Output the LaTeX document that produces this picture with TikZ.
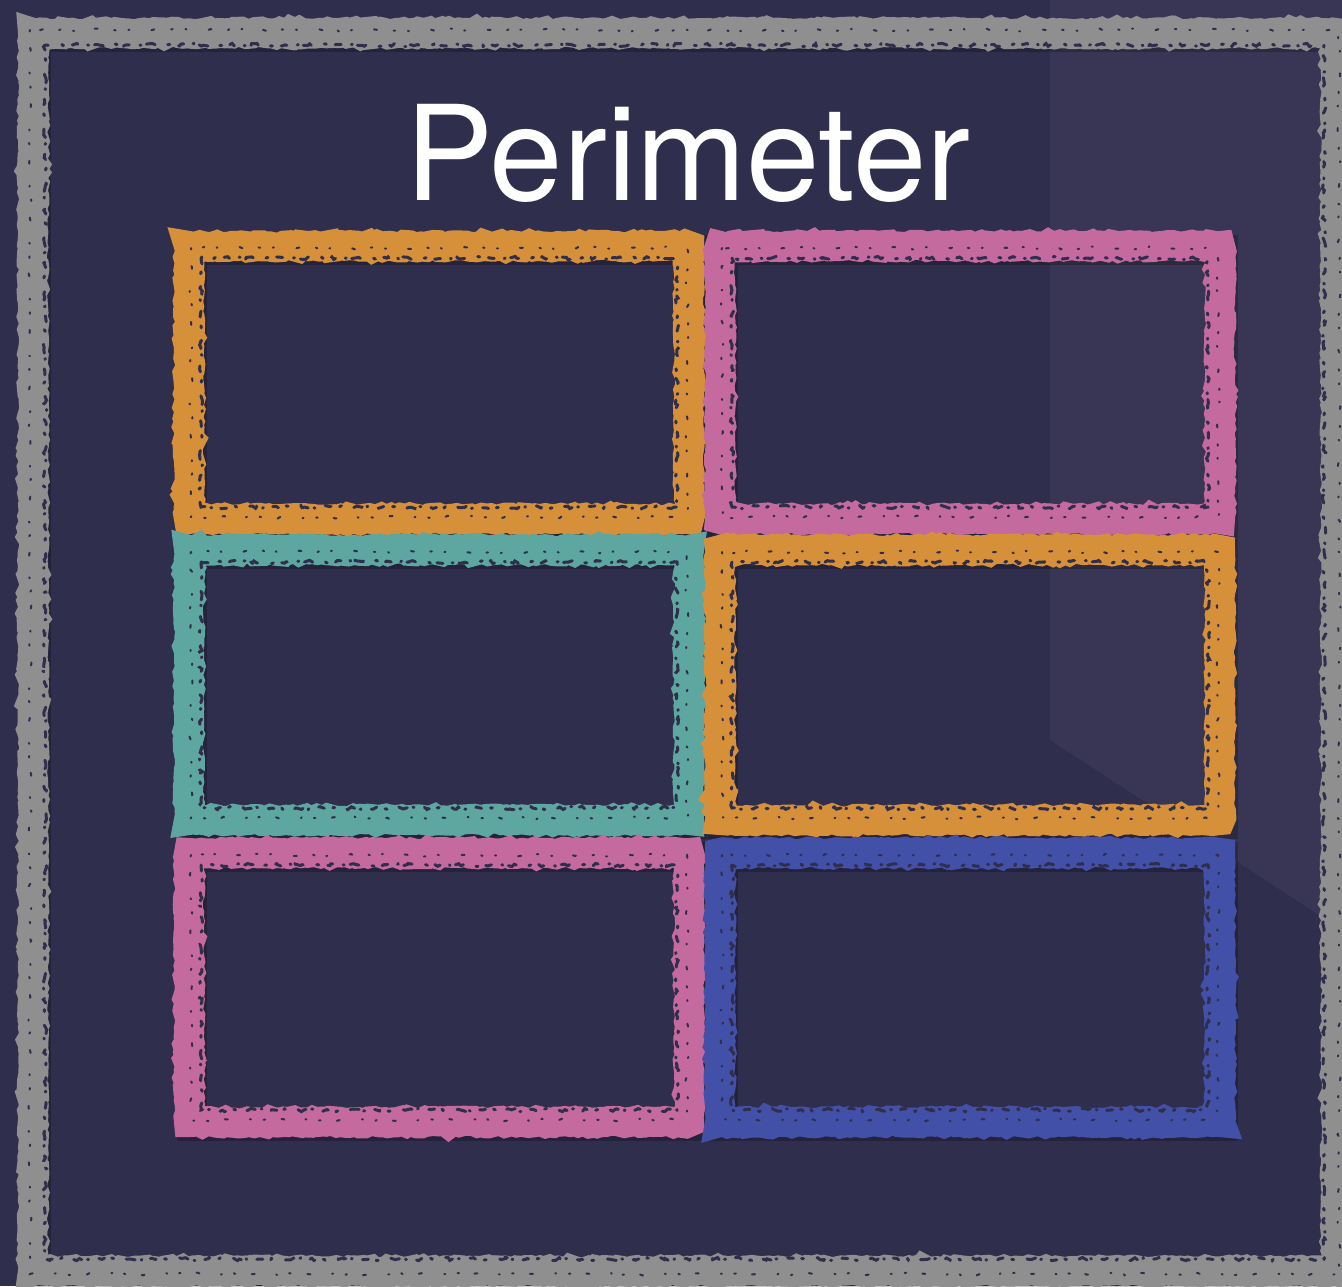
\documentclass[tikz,border=0pt]{standalone}
\usepackage{fontspec}
\setmainfont{TeX Gyre Heros}
\usetikzlibrary{decorations.pathmorphing}
\definecolor{board}{HTML}{302E4D}
\definecolor{boardlight}{HTML}{383654}
\definecolor{chalkgray}{HTML}{8F8F8F}
\definecolor{chalkorange}{HTML}{D6903A}
\definecolor{chalkpink}{HTML}{C46A9E}
\definecolor{chalkteal}{HTML}{5EA6A0}
\definecolor{chalkblue}{HTML}{4350A8}

\begin{document}
\begin{tikzpicture}[x=1pt,y=-1pt,
  chalk/.style={line width=30pt, line join=miter, decorate, decoration={random steps,segment length=4pt,amplitude=1.4pt}},
  chalkshade/.style={line width=30pt, line join=miter, black, opacity=0.22},
  speck/.style={line width=3pt, board, line cap=round, dash pattern=on 6pt off 9pt on 2pt off 14pt on 9pt off 6pt on 1pt off 11pt, decorate, decoration={random steps,segment length=3pt,amplitude=1.6pt}},
  speckb/.style={line width=2pt, board, line cap=round, dash pattern=on 1.5pt off 17pt on 3pt off 23pt on 1pt off 13pt, decorate, decoration={random steps,segment length=4pt,amplitude=1.5pt}}]
\pgfmathsetseed{7}
\useasboundingbox (0,0) rectangle (1342,1286);
\clip (0,0) rectangle (1342,1286);
% board
\fill[board] (0,0) rectangle (1342,1286);
\fill[boardlight] (1050,0) -- (1342,0) -- (1342,930) -- (1050,740) -- cycle;
% outer frame
\draw[chalkshade] (36,37) rectangle (1339,1274);
\draw[chalk, chalkgray] (33,33) rectangle (1336,1271);
\draw[speck] (45,45) rectangle (1324,1259);
\draw[speckb] (30,30) rectangle (1339,1274);
% title
\node[anchor=base, font=\fontsize{132}{150}\selectfont, white] (title) at (688,200) {Perimeter};
% six boxes
\foreach \x/\y/\h/\col in {189/246/273/chalkorange, 720/246/273/chalkpink,
                           189/550/270/chalkteal,   720/550/270/chalkorange,
                           189/853/269/chalkpink,   720/853/269/chalkblue}{
  \draw[chalkshade] (\x+3,\y+4) rectangle (\x+503,\y+\h+4);
}
\foreach \x/\y/\h/\col in {189/246/273/chalkorange, 720/246/273/chalkpink,
                           189/550/270/chalkteal,   720/550/270/chalkorange,
                           189/853/269/chalkpink,   720/853/269/chalkblue}{
  \draw[chalk, \col] (\x,\y) rectangle (\x+500,\y+\h);
  \draw[speck] (\x+12,\y+12) rectangle (\x+488,\y+\h-12);
  \draw[speckb] (\x+2,\y+2) rectangle (\x+498,\y+\h-2);
}
\end{tikzpicture}
\end{document}
